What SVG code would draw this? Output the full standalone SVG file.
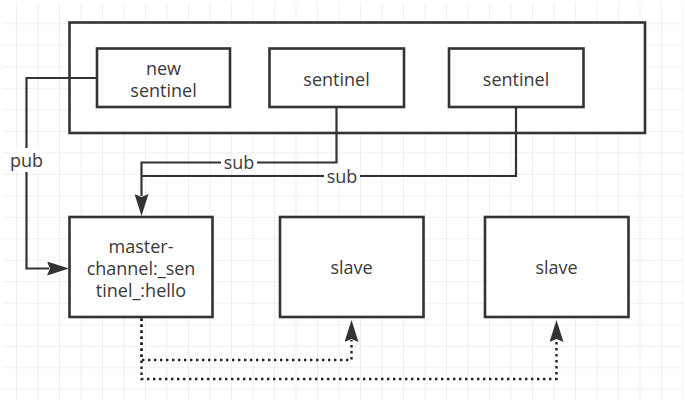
<svg xmlns="http://www.w3.org/2000/svg" width="685" height="404" viewBox="0 0 685 404">
<style>
.box{fill:#fff;stroke:#333;stroke-width:2.6}
.frame{fill:#fff;stroke:#333;stroke-width:2.6}
.t{font-family:"Open Sans","Liberation Sans",sans-serif;font-size:18px;fill:#3a3a3a;text-anchor:middle}
.c{fill:none;stroke:#333;stroke-width:2.2}
.d{fill:none;stroke:#222;stroke-width:2.4;stroke-dasharray:2.4 3.6}
.lb{fill:#fff}
</style>
<defs>
<pattern id="grid" patternUnits="userSpaceOnUse" x="16" y="1.8" width="21.5" height="21.5">
<path d="M0,0 V21.5 M0,0 H21.5" fill="none" stroke="#ebebeb" stroke-width="1.5"/>
</pattern>
<marker id="arr" markerUnits="userSpaceOnUse" viewBox="0 0 22 14" markerWidth="22" markerHeight="14" refX="2" refY="7" orient="auto">
<path d="M0,0 L22,7 L0,14 L3,7 Z" fill="#333"/>
</marker>
</defs>
<rect width="685" height="404" fill="#fff"/>
<rect x="3" y="3" width="680" height="398" fill="url(#grid)"/>
<g id="cluster">
<rect class="frame" x="69.5" y="22.5" width="575.5" height="110.5"/>
</g>
<g id="new-sentinel">
<rect class="box" x="97" y="48.5" width="133" height="58.5"/>
<text class="t" x="163.5" y="75">new</text>
<text class="t" x="163.5" y="97">sentinel</text>
</g>
<g id="sentinel-1">
<rect class="box" x="269.5" y="48.5" width="134.5" height="58.5"/>
<text class="t" x="336.5" y="86">sentinel</text>
</g>
<g id="sentinel-2">
<rect class="box" x="449" y="48.5" width="134.5" height="58.5"/>
<text class="t" x="516" y="86">sentinel</text>
</g>
<g id="master">
<rect class="box" x="69.5" y="217" width="143" height="100"/>
<text class="t" x="141" y="252.5">master-</text>
<text class="t" x="141" y="274.5">channel:_sen</text>
<text class="t" x="141" y="296.5">tinel_:hello</text>
</g>
<g id="slave-1">
<rect class="box" x="280" y="217" width="143.5" height="100"/>
<text class="t" x="351.5" y="274">slave</text>
</g>
<g id="slave-2">
<rect class="box" x="485" y="217" width="143.5" height="100"/>
<text class="t" x="556.5" y="274">slave</text>
</g>
<g id="connectors">
<path class="c" d="M97,78 H26.5 V268.5 H49" marker-end="url(#arr)"/>
<path class="c" d="M336.5,107 V162.5 H141.5 V196" marker-end="url(#arr)"/>
<path class="c" d="M516,107 V176 H141.5"/>
<path class="d" d="M141.5,318.5 V360 H351.5 V340" marker-end="url(#arr)"/>
<path class="d" d="M141.5,318.5 V379 H556.5 V340" marker-end="url(#arr)"/>
<rect class="lb" x="10" y="148" width="33" height="24"/>
<text class="t" x="26.5" y="166.5">pub</text>
<rect class="lb" x="221" y="157" width="36" height="11"/>
<text class="t" x="239" y="169">sub</text>
<rect class="lb" x="324" y="171" width="36" height="11"/>
<text class="t" x="342" y="183">sub</text>
</g>
</svg>
